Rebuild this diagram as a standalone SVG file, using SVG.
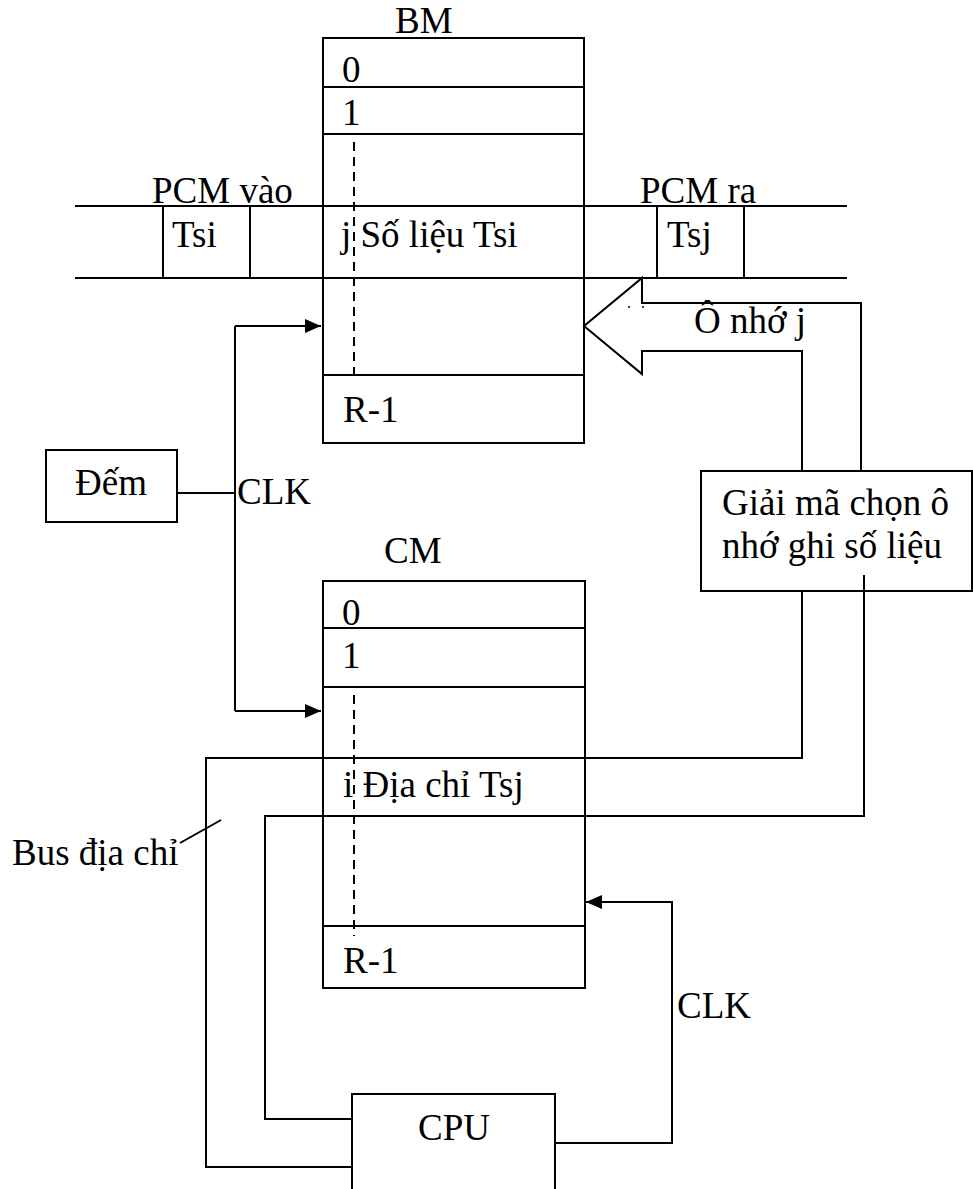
<svg xmlns="http://www.w3.org/2000/svg" width="973" height="1189" viewBox="0 0 973 1189">
<style>
.l{fill:none;stroke:#000;stroke-width:2}
.d{fill:none;stroke:#000;stroke-width:2;stroke-dasharray:9,6}
text{font-family:"Liberation Serif","Times New Roman",serif;font-size:37px;fill:#000}
</style>
<defs>
<marker id="ah" viewBox="0 0 16 14" refX="16" refY="7" markerWidth="16" markerHeight="14" markerUnits="userSpaceOnUse" orient="auto">
<path d="M0,0 L16,7 L0,14 Z" fill="#000"/>
</marker>
</defs>
<rect width="973" height="1189" fill="#fff"/>

<g id="pcm">
<line class="l" x1="75" y1="206" x2="847" y2="206"/>
<line class="l" x1="75" y1="278" x2="847" y2="278"/>
<line class="l" x1="163" y1="206" x2="163" y2="278"/>
<line class="l" x1="250" y1="206" x2="250" y2="278"/>
<line class="l" x1="657" y1="206" x2="657" y2="278"/>
<line class="l" x1="744" y1="206" x2="744" y2="278"/>
<text x="152" y="203">PCM vào</text>
<text x="172" y="247">Tsi</text>
<text x="640" y="203">PCM ra</text>
<text x="667" y="247">Tsj</text>
</g>

<g id="BM">
<text x="395" y="33">BM</text>
<rect class="l" x="323" y="38" width="261" height="405"/>
<line class="l" x1="323" y1="87" x2="584" y2="87"/>
<line class="l" x1="323" y1="134" x2="584" y2="134"/>
<line class="l" x1="323" y1="375" x2="584" y2="375"/>
<line class="d" x1="354" y1="142" x2="354" y2="378"/>
<text x="342" y="82">0</text>
<text x="342" y="125">1</text>
<text x="341" y="247">j Số liệu Tsi</text>
<text x="343" y="422">R-1</text>
</g>

<g id="dem">
<rect class="l" x="46" y="450" width="131" height="72"/>
<text x="75" y="495">Đếm</text>
</g>

<g id="CM">
<text x="384" y="563">CM</text>
<rect class="l" x="323" y="581" width="262" height="407"/>
<line class="l" x1="323" y1="628" x2="585" y2="628"/>
<line class="l" x1="323" y1="687" x2="585" y2="687"/>
<line class="l" x1="323" y1="926" x2="585" y2="926"/>
<line class="d" x1="354" y1="695" x2="354" y2="936"/>
<text x="342" y="625">0</text>
<text x="342" y="668">1</text>
<text x="343" y="797">i Địa chỉ Tsj</text>
<text x="343" y="973">R-1</text>
</g>

<g id="giaima">
<rect class="l" x="701" y="471" width="271" height="120"/>
<text x="722" y="515">Giải mã chọn ô</text>
<text x="722" y="558">nhớ ghi số liệu</text>
</g>

<g id="CPU">
<rect class="l" x="352" y="1094" width="203" height="110"/>
<text x="418" y="1140">CPU</text>
</g>

<g id="connectors">
<line class="l" x1="177" y1="493" x2="235" y2="493"/>
<path class="l" d="M235,326 L235,711"/>
<path class="l" d="M235,326 L321,326" marker-end="url(#ah)"/>
<path class="l" d="M235,711 L321,711" marker-end="url(#ah)"/>
<text x="237" y="504">CLK</text>
<path class="l" d="M555,1143 L672,1143 L672,902 L586,902" marker-end="url(#ah)"/>
<text x="677" y="1018">CLK</text>
<path class="l" d="M861,471 L861,303 L642,303 L642,278 L584,326 L642,374 L642,351 L802,351 L802,471"/>
<text x="694" y="333">Ô nhớ j</text>
<circle cx="629" cy="307" r="1" fill="#000"/>
<circle cx="643" cy="307" r="1" fill="#000"/>
<path class="l" d="M802,591 L802,758 L206,758 L206,1167 L352,1167"/>
<path class="l" d="M864,575 L864,816 L265,816 L265,1119 L352,1119"/>
<line class="l" x1="180" y1="843" x2="221" y2="820"/>
<text x="12" y="865">Bus địa chỉ</text>
</g>
</svg>
